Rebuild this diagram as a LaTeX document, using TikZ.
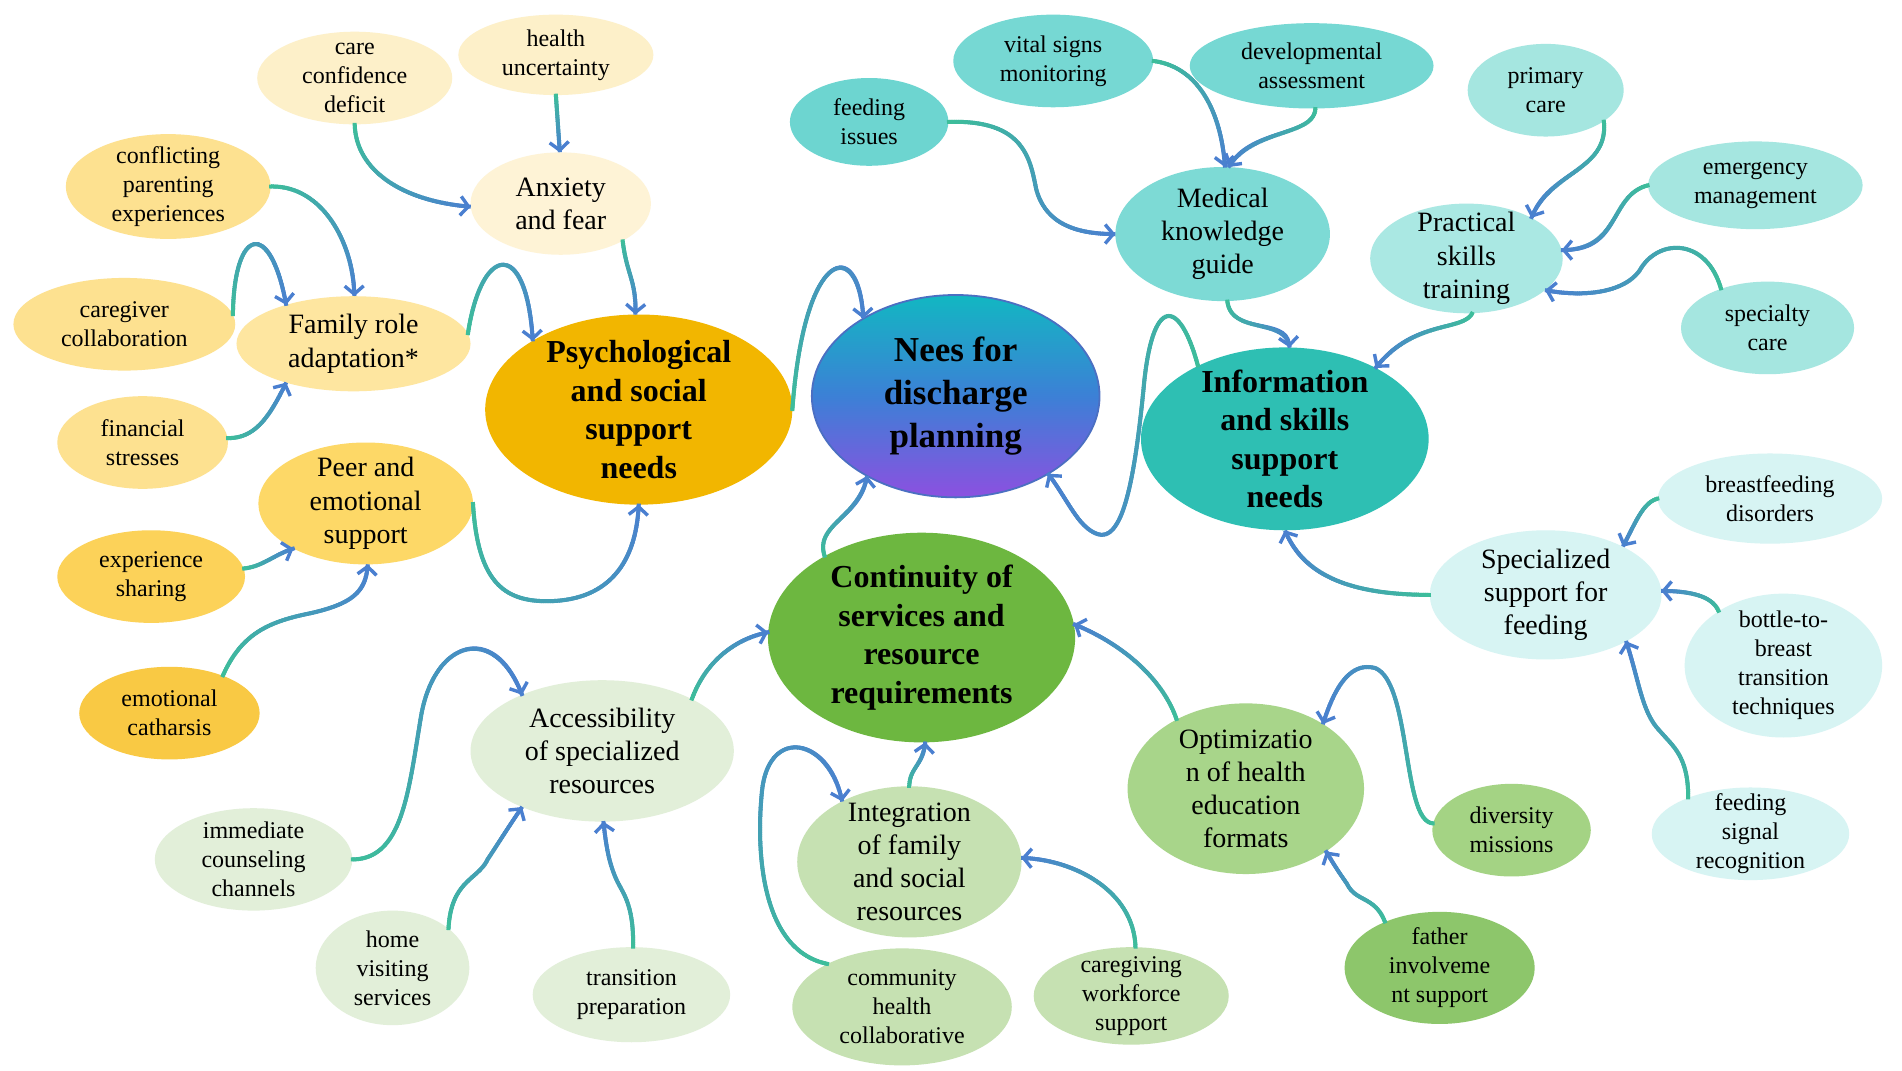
\documentclass[tikz,border=0pt]{standalone}
\usepackage{fontspec}
\setmainfont{Liberation Serif}
\usetikzlibrary{shapes.geometric,arrows.meta,decorations.markings}
\definecolor{cgreen}{HTML}{3DBE9A}
\definecolor{cblue}{HTML}{4A7FD0}
% yellow family
\definecolor{yCream}{HTML}{FDF0C9}
\definecolor{yAnx}{HTML}{FEF3D6}
\definecolor{yMid}{HTML}{FDE190}
\definecolor{yFam}{HTML}{FEE6A0}
\definecolor{yPeer}{HTML}{FDD867}
\definecolor{yExp}{HTML}{FCD259}
\definecolor{yEmo}{HTML}{F9C944}
\definecolor{yPsy}{HTML}{F2B600}
% teal family
\definecolor{tA}{HTML}{6DD5D0}
\definecolor{tB}{HTML}{76D8D3}
\definecolor{tMed}{HTML}{7DDAD5}
\definecolor{tC}{HTML}{A5E6E0}
\definecolor{tPr}{HTML}{AAE8E3}
\definecolor{tInfo}{HTML}{2EBFB3}
\definecolor{tL}{HTML}{D7F4F3}
% green family
\definecolor{gCont}{HTML}{6DB740}
\definecolor{gL}{HTML}{E2EFD9}
\definecolor{gM}{HTML}{C6E1B2}
\definecolor{gO}{HTML}{A8D58A}
\definecolor{gD}{HTML}{A4D384}
\definecolor{gF}{HTML}{8DC66B}
% center
\definecolor{nTop}{HTML}{12B7C2}
\definecolor{nMid}{HTML}{3C80D6}
\definecolor{nBot}{HTML}{8C50E0}
\definecolor{nBd}{HTML}{4B6FC2}
\begin{document}
\begin{tikzpicture}[x=0.6095pt,y=-0.6095pt,
  el/.style 2 args={ellipse, inner sep=0pt, outer sep=0pt,
    minimum width=#1*1.219pt, minimum height=#2*1.219pt},
  stxt/.style={font=\fontsize{12}{14.5}\selectfont, align=center, inner sep=0pt},
  mtxt/.style={font=\fontsize{14}{16.6}\selectfont, align=center, inner sep=0pt},
  btxt/.style={font=\fontsize{16}{19.2}\selectfont\bfseries, align=center, inner sep=0pt},
  ctxt/.style={font=\fontsize{17.5}{21.6}\selectfont\bfseries, align=center, inner sep=0pt},
  conn/.style={draw=cblue, line width=1.7pt, -{Straight Barb[length=4pt,width=9.5pt]},
    postaction={decorate},
    decoration={markings,
      mark=between positions 0 and 1 step 0.9pt with {
        \pgfmathtruncatemacro\mixv{\pgfkeysvalueof{/pgf/decoration/mark info/distance from start}/\pgfdecoratedpathlength*100}
        \draw[-, line width=2pt, color=cblue!\mixv!cgreen] (-0.7pt,0) -- (0.7pt,0);
      }
    }}
]
\useasboundingbox (0,0) rectangle (1560.3,877.8);
\fill[white] (0,0) rectangle (1560.3,877.8);

% ---------------- yellow cluster
\node[el={80}{38}, fill=yCream, label={[stxt]center:{care\\confidence\\deficit}}] (care) at (291,64) {};
\node[el={80}{33}, fill=yCream, label={[stxt]center:{health\\uncertainty}}] (health) at (456,45) {};
\node[el={74}{42}, fill=yAnx, label={[mtxt]center:{Anxiety\\and fear}}] (anx) at (460,167) {};
\node[el={84}{43}, fill=yMid, label={[stxt]center:{conflicting\\parenting\\experiences}}] (confl) at (138,153) {};
\node[el={91}{38}, fill=yMid, label={[stxt]center:{caregiver\\collaboration}}] (cgcol) at (102,266) {};
\node[el={96}{39}, fill=yFam, label={[mtxt]center:{Family role\\adaptation*}}] (family) at (290,282) {};
\node[el={70}{38}, fill=yMid, label={[stxt]center:{financial\\stresses}}] (fin) at (117,363) {};
\node[el={88}{50}, fill=yPeer, label={[mtxt]center:{Peer and\\emotional\\support}}] (peer) at (300,413) {};
\node[el={77}{38}, fill=yExp, label={[stxt]center:{experience\\sharing}}] (exp) at (124,473) {};
\node[el={74}{38}, fill=yEmo, label={[stxt]center:{emotional\\catharsis}}] (emo) at (139,585) {};
\node[el={126}{78}, fill=yPsy, label={[btxt]center:{Psychological\\and social\\support\\needs}}] (psych) at (524,336) {};

% ---------------- center
\node[el={118}{83}, top color=nTop, bottom color=nBot, middle color=nMid, draw=nBd, line width=0.9pt,
  label={[ctxt]center:{Nees for\\discharge\\planning}}] (nees) at (784,325) {};

% ---------------- teal cluster
\node[el={65}{36}, fill=tA, label={[stxt]center:{feeding\\issues}}] (feedi) at (713,100) {};
\node[el={82}{38}, fill=tB, label={[stxt]center:{vital signs\\monitoring}}] (vital) at (864,50) {};
\node[el={100}{35}, fill=tB, label={[stxt]center:{developmental\\assessment}}] (devel) at (1076,54) {};
\node[el={88}{55}, fill=tMed, label={[mtxt]center:{Medical\\knowledge\\guide}}] (medic) at (1003,192) {};
\node[el={64}{38}, fill=tC, label={[stxt]center:{primary\\care}}] (prim) at (1268,74) {};
\node[el={88}{36}, fill=tC, label={[stxt]center:{emergency\\management}}] (emerg) at (1440,152) {};
\node[el={79}{45}, fill=tPr, label={[mtxt]center:{Practical\\skills\\training}}] (pract) at (1203,212) {};
\node[el={71}{38}, fill=tC, label={[stxt]center:{specialty\\care}}] (spec) at (1450,269) {};
\node[el={118}{75}, fill=tInfo, label={[btxt]center:{Information\\and skills\\support\\needs}}] (info) at (1054,360) {};
\node[el={92}{37}, fill=tL, label={[stxt]center:{breastfeeding\\disorders}}] (breast) at (1452,409) {};
\node[el={95}{53}, fill=tL, label={[mtxt]center:{Specialized\\support for\\feeding}}] (sfeed) at (1268,488) {};
\node[el={81}{59}, fill=tL, label={[stxt]center:{bottle-to-\\breast\\transition\\techniques}}] (bottle) at (1463,546) {};
\node[el={81}{38}, fill=tL, label={[stxt]center:{feeding\\signal\\recognition}}] (signal) at (1436,684) {};

% ---------------- green cluster
\node[el={126}{86}, fill=gCont, label={[btxt]center:{Continuity of\\services and\\resource\\requirements}}] (cont) at (756,523) {};
\node[el={108}{58}, fill=gL, label={[mtxt]center:{Accessibility\\of specialized\\resources}}] (access) at (494,616) {};
\node[el={81}{42}, fill=gL, label={[stxt]center:{immediate\\counseling\\channels}}] (immed) at (208,705) {};
\node[el={63}{47}, fill=gL, label={[stxt]center:{home\\visiting\\services}}] (home) at (322,794) {};
\node[el={81}{39}, fill=gL, label={[stxt]center:{transition\\preparation}}] (trans) at (518,816) {};
\node[el={92}{62}, fill=gM, label={[mtxt]center:{Integration\\of family\\and social\\resources}}] (integ) at (746,707) {};
\node[el={90}{48}, fill=gM, label={[stxt]center:{community\\health\\collaborative}}] (comm) at (740,826) {};
\node[el={80}{40}, fill=gM, label={[stxt]center:{caregiving\\workforce\\support}}] (careg) at (928,817) {};
\node[el={97}{70}, fill=gO, label={[mtxt]center:{Optimizatio\\n of health\\education\\formats}}] (optim) at (1022,647) {};
\node[el={65}{38}, fill=gD, label={[stxt]center:{diversity\\missions}}] (divers) at (1240,681) {};
\node[el={78}{46}, fill=gF, label={[stxt]center:{father\\involveme\\nt support}}] (father) at (1181,794) {};

% ---------------- connectors: yellow
\path[conn] (care.-90) .. controls (292,140) and (330,165) .. (anx.182);
\path[conn] (health.-90) -- (anx.91);
\path[conn] (anx.-31) .. controls (514,225) and (522,230) .. (psych.92);
\path[conn] (confl.0) .. controls (265,152) and (290,200) .. (family.89);
\path[conn] (cgcol.5) .. controls (192,185) and (222,180) .. (family.150);
\path[conn] (fin.3) .. controls (210,360) and (222,340) .. (family.-150);
\path[conn] (family.5) .. controls (395,200) and (432,195) .. (psych.147);
\path[conn] (peer.0) .. controls (392,480) and (415,495) .. (455,493) .. controls (505,490) and (522,455) .. (psych.-90);
\path[conn] (exp.5) .. controls (215,465) and (225,455) .. (peer.-148);
\path[conn] (emo.35) .. controls (198,520) and (220,510) .. (255,503) .. controls (290,495) and (300,485) .. (peer.-88);

% ---------------- connectors: to center
\path[conn] (psych.0) .. controls (660,200) and (705,195) .. (nees.140);
\path[conn] (cont.140) .. controls (668,430) and (705,425) .. (nees.-138);
\path[conn] (info.140) .. controls (968,245) and (945,240) .. (938,320) .. controls (930,400) and (920,445) .. (900,438) .. controls (884,432) and (876,410) .. (nees.-40);

% ---------------- connectors: teal
\path[conn] (feedi.0) .. controls (840,98) and (845,130) .. (850,155) .. controls (858,185) and (885,192) .. (medic.180);
\path[conn] (vital.0) .. controls (985,55) and (1002,95) .. (medic.88);
\path[conn] (devel.-85) .. controls (1078,112) and (1028,105) .. (medic.85);
\path[conn] (medic.-86) .. controls (1010,275) and (1055,260) .. (info.87);
\path[conn] (pract.-84) .. controls (1200,272) and (1160,262) .. (info.38);
\path[conn] (prim.-28) .. controls (1320,140) and (1272,140) .. (pract.32);
\path[conn] (emerg.180) .. controls (1320,160) and (1330,205) .. (pract.5);
\path[conn] (spec.140) .. controls (1400,195) and (1360,195) .. (1345,222) .. controls (1332,240) and (1300,244) .. (pract.-22);
\path[conn] (sfeed.180) .. controls (1100,488) and (1068,468) .. (info.-90);
\path[conn] (breast.180) .. controls (1348,412) and (1342,428) .. (sfeed.32);
\path[conn] (bottle.140) .. controls (1405,490) and (1390,485) .. (sfeed.2);
\path[conn] (signal.150) .. controls (1385,620) and (1372,612) .. (1362,600) .. controls (1347,585) and (1345,560) .. (sfeed.-30);

% ---------------- connectors: green
\path[conn] (access.30) .. controls (578,545) and (600,525) .. (cont.178);
\path[conn] (immed.0) .. controls (330,705) and (335,650) .. (345,590) .. controls (355,525) and (405,510) .. (access.145);
\path[conn] (home.35) .. controls (370,722) and (392,722) .. (400,705) .. controls (410,690) and (416,680) .. (access.-145);
\path[conn] (trans.88) .. controls (520,740) and (510,732) .. (505,720) .. controls (499,706) and (497,692) .. (access.-89);
\path[conn] (integ.90) .. controls (746,630) and (757,628) .. (cont.-88);
\path[conn] (comm.150) .. controls (625,780) and (620,700) .. (625,650) .. controls (630,595) and (680,605) .. (integ.138);
\path[conn] (careg.85) .. controls (930,730) and (880,705) .. (integ.2);
\path[conn] (optim.135) .. controls (955,560) and (925,530) .. (cont.5);
\path[conn] (divers.175) .. controls (1150,675) and (1158,560) .. (1128,548) .. controls (1105,542) and (1093,570) .. (optim.40);
\path[conn] (father.140) .. controls (1128,735) and (1112,740) .. (1105,725) .. controls (1098,715) and (1096,712) .. (optim.-38);
\end{tikzpicture}
\end{document}
